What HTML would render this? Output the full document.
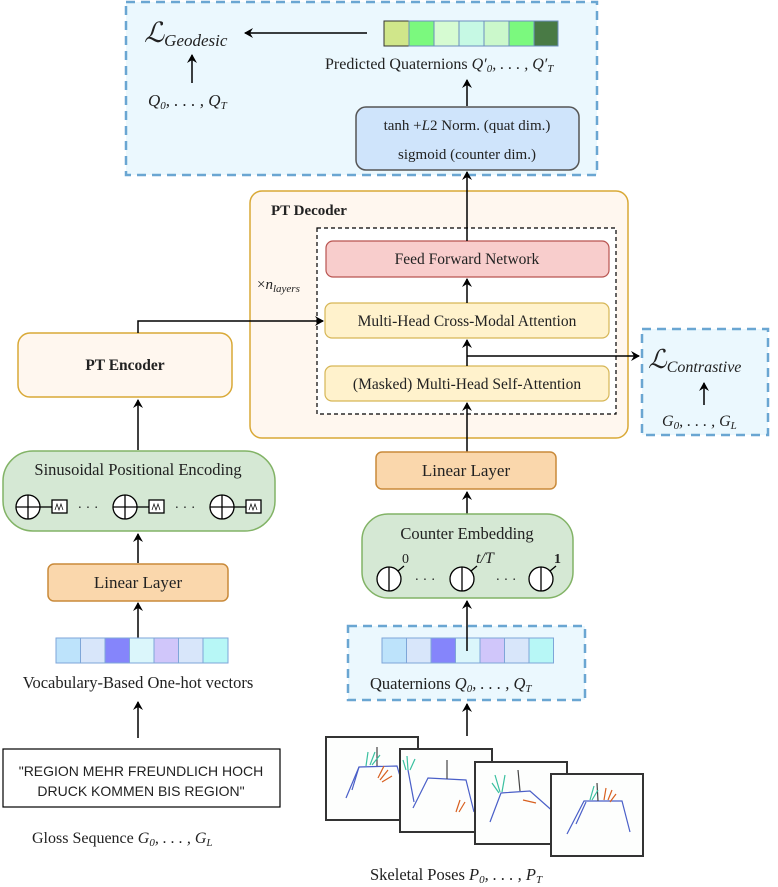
<!DOCTYPE html>
<html><head><meta charset="utf-8"><style>
html,body{margin:0;padding:0;background:#fff}
svg{display:block}
text{font-family:"Liberation Serif",serif;fill:#222}
.it{font-style:italic}
</style></head><body>
<svg width="778" height="887" viewBox="0 0 778 887" xmlns="http://www.w3.org/2000/svg">
<defs>
<marker id="a" markerWidth="10" markerHeight="10" refX="8" refY="5" orient="auto" markerUnits="userSpaceOnUse">
<path d="M0,0 L9,5 L0,10 L3,5 z" fill="#000"/></marker>
</defs>
<!-- top box -->
<rect x="126" y="2" width="471" height="173" fill="#ebf8fe" stroke="#6aa6d2" stroke-width="2.5" stroke-dasharray="9,6"/>
<text x="144" y="42" font-size="28" class="it">ℒ<tspan font-size="17" dy="4">Geodesic</tspan></text>
<line x1="367" y1="33" x2="245" y2="33" stroke="#000" stroke-width="1.5" marker-end="url(#a)"/>
<line x1="192" y1="83" x2="192" y2="55" stroke="#000" stroke-width="1.5" marker-end="url(#a)"/>
<text x="148" y="106" font-size="17" class="it">Q<tspan font-size="11" dy="3">0</tspan><tspan dy="-3">, . . . , Q</tspan><tspan font-size="11" dy="3">T</tspan></text>
<g stroke="#6c8ebf" stroke-width="1">
<rect x="384" y="21" width="25" height="25" fill="#d0e68a" stroke="#333"/>
<rect x="409" y="21" width="25" height="25" fill="#7bf97e"/>
<rect x="434" y="21" width="25" height="25" fill="#d6fbd2"/>
<rect x="459" y="21" width="25" height="25" fill="#c6f9e4"/>
<rect x="484" y="21" width="25" height="25" fill="#cbf8cb"/>
<rect x="509" y="21" width="25" height="25" fill="#7bf97e"/>
<rect x="534" y="21" width="24" height="25" fill="#497a45"/>
</g>
<text x="325" y="69" font-size="16">Predicted Quaternions <tspan class="it">Q′<tspan font-size="11" dy="3">0</tspan><tspan dy="-3">, . . . , Q′</tspan><tspan font-size="11" dy="3">T</tspan></tspan></text>
<line x1="467" y1="106" x2="467" y2="80" stroke="#000" stroke-width="1.5" marker-end="url(#a)"/>
<rect x="356" y="107" width="223" height="63" rx="10" fill="#cfe4fb" stroke="#555" stroke-width="1.5"/>
<text x="467" y="130" font-size="15" text-anchor="middle">tanh +<tspan class="it">L</tspan>2 Norm. (quat dim.)</text>
<text x="467" y="159" font-size="15" text-anchor="middle">sigmoid (counter dim.)</text>
<!-- decoder -->
<rect x="250" y="191" width="378" height="247" rx="12" fill="#fff7ef" stroke="#d9a937" stroke-width="1.5"/>
<text x="271" y="215" font-size="15" font-weight="bold">PT Decoder</text>
<rect x="317" y="228" width="299" height="186" fill="#fff" stroke="#000" stroke-width="1.2" stroke-dasharray="4,3"/>
<text x="257" y="289" font-size="15">×<tspan class="it">n</tspan><tspan class="it" font-size="11" dy="3">layers</tspan></text>
<rect x="326" y="241" width="283" height="36" rx="7" fill="#f8cdcc" stroke="#b85450" stroke-width="1.2"/>
<text x="467" y="264" font-size="15.5" text-anchor="middle">Feed Forward Network</text>
<rect x="325" y="303" width="284" height="35" rx="7" fill="#fff2cc" stroke="#d6b656" stroke-width="1.2"/>
<text x="467" y="326" font-size="15.5" text-anchor="middle">Multi-Head Cross-Modal Attention</text>
<rect x="325" y="366" width="284" height="35" rx="7" fill="#fff2cc" stroke="#d6b656" stroke-width="1.2"/>
<text x="467" y="389" font-size="15.5" text-anchor="middle">(Masked) Multi-Head Self-Attention</text>
<line x1="467" y1="241" x2="467" y2="172" stroke="#000" stroke-width="1.5" marker-end="url(#a)"/>
<line x1="467" y1="303" x2="467" y2="279" stroke="#000" stroke-width="1.5" marker-end="url(#a)"/>
<line x1="467" y1="366" x2="467" y2="340" stroke="#000" stroke-width="1.5" marker-end="url(#a)"/>
<line x1="467" y1="356" x2="639" y2="356" stroke="#000" stroke-width="1.5" marker-end="url(#a)"/>
<line x1="467" y1="452" x2="467" y2="403" stroke="#000" stroke-width="1.5" marker-end="url(#a)"/>
<!-- contrastive -->
<rect x="642" y="329" width="126" height="106" fill="#ebf8fe" stroke="#6aa6d2" stroke-width="2.5" stroke-dasharray="9,6"/>
<text x="648" y="368" font-size="26" class="it">ℒ<tspan font-size="16" dy="4">Contrastive</tspan></text>
<line x1="704" y1="405" x2="704" y2="383" stroke="#000" stroke-width="1.5" marker-end="url(#a)"/>
<text x="662" y="426" font-size="16" class="it">G<tspan font-size="11" dy="3">0</tspan><tspan dy="-3">, . . . , G</tspan><tspan font-size="11" dy="3">L</tspan></text>
<!-- encoder -->
<rect x="18" y="333" width="214" height="64" rx="12" fill="#fff7ef" stroke="#d9a937" stroke-width="1.5"/>
<text x="125" y="370" font-size="15.5" font-weight="bold" text-anchor="middle">PT Encoder</text>
<polyline points="138,333 138,321 323,321" fill="none" stroke="#000" stroke-width="1.5" marker-end="url(#a)"/>
<line x1="138" y1="450" x2="138" y2="400" stroke="#000" stroke-width="1.5" marker-end="url(#a)"/>
<rect x="3" y="451" width="272" height="80" rx="30" fill="#d5e8d4" stroke="#82b366" stroke-width="1.5"/>
<text x="138" y="475" font-size="16.5" text-anchor="middle">Sinusoidal Positional Encoding</text>
<g stroke="#000" stroke-width="1.3" fill="#fff">
<g transform="translate(28,507)"><circle r="12"/><line x1="-12" y1="0" x2="12" y2="0"/><line x1="0" y1="-12" x2="0" y2="12"/><line x1="12" y1="0" x2="24" y2="0"/><rect x="24" y="-7" width="15" height="13"/><path d="M27,3 L29,-3 L31,3 L33,-3 L35,3" fill="none" stroke-width="0.7"/></g>
<g transform="translate(125,507)"><circle r="12"/><line x1="-12" y1="0" x2="12" y2="0"/><line x1="0" y1="-12" x2="0" y2="12"/><line x1="12" y1="0" x2="24" y2="0"/><rect x="24" y="-7" width="15" height="13"/><path d="M27,3 L29,-3 L31,3 L33,-3 L35,3" fill="none" stroke-width="0.7"/></g>
<g transform="translate(222,507)"><circle r="12"/><line x1="-12" y1="0" x2="12" y2="0"/><line x1="0" y1="-12" x2="0" y2="12"/><line x1="12" y1="0" x2="24" y2="0"/><rect x="24" y="-7" width="15" height="13"/><path d="M27,3 L29,-3 L31,3 L33,-3 L35,3" fill="none" stroke-width="0.7"/></g>
</g>
<text x="88" y="512" font-size="14" text-anchor="middle">· · ·</text>
<text x="185" y="512" font-size="14" text-anchor="middle">· · ·</text>
<line x1="138" y1="563" x2="138" y2="534" stroke="#000" stroke-width="1.5" marker-end="url(#a)"/>
<rect x="48" y="564" width="180" height="37" rx="6" fill="#fad7ac" stroke="#c98a3a" stroke-width="1.5"/>
<text x="138" y="588" font-size="17" text-anchor="middle">Linear Layer</text>
<line x1="138" y1="638" x2="138" y2="603" stroke="#000" stroke-width="1.5" marker-end="url(#a)"/>
<g stroke="#7ea6d8" stroke-width="1">
<rect x="56" y="638" width="24.5" height="25" fill="#bde3fb"/><rect x="80.5" y="638" width="24.5" height="25" fill="#d8e6fa"/><rect x="105" y="638" width="24.5" height="25" fill="#8585fb"/><rect x="129.5" y="638" width="24.5" height="25" fill="#dbf6fb"/><rect x="154" y="638" width="24.5" height="25" fill="#d0c6fa"/><rect x="178.5" y="638" width="24.5" height="25" fill="#d8e6fa"/><rect x="203" y="638" width="25" height="25" fill="#b7f7f6"/>
</g>
<text x="138" y="688" font-size="16.5" text-anchor="middle">Vocabulary-Based One-hot vectors</text>
<line x1="138" y1="738" x2="138" y2="702" stroke="#000" stroke-width="1.5" marker-end="url(#a)"/>
<rect x="3" y="749" width="277" height="58" fill="#fff" stroke="#000" stroke-width="1.2"/>
<text x="141" y="776" font-size="14" text-anchor="middle" style="font-family:'Liberation Sans',sans-serif">"REGION MEHR FREUNDLICH HOCH</text>
<text x="141" y="796" font-size="14" text-anchor="middle" style="font-family:'Liberation Sans',sans-serif">DRUCK KOMMEN BIS REGION"</text>
<text x="32" y="843" font-size="16">Gloss Sequence  <tspan class="it">G<tspan font-size="11" dy="3">0</tspan><tspan dy="-3">, . . . , G</tspan><tspan font-size="11" dy="3">L</tspan></tspan></text>
<!-- right column -->
<rect x="376" y="452" width="180" height="37" rx="6" fill="#fad7ac" stroke="#c98a3a" stroke-width="1.5"/>
<text x="466" y="476" font-size="17" text-anchor="middle">Linear Layer</text>
<line x1="467" y1="514" x2="467" y2="492" stroke="#000" stroke-width="1.5" marker-end="url(#a)"/>
<rect x="362" y="514" width="211" height="84" rx="26" fill="#d5e8d4" stroke="#82b366" stroke-width="1.5"/>
<text x="467" y="539" font-size="16.5" text-anchor="middle">Counter Embedding</text>
<g stroke="#000" stroke-width="1.3" fill="#fff">
<circle cx="389" cy="579" r="12"/><line x1="389" y1="567" x2="389" y2="591"/><line x1="398" y1="571" x2="404" y2="566"/>
<circle cx="462" cy="579" r="12"/><line x1="462" y1="567" x2="462" y2="591"/><line x1="471" y1="571" x2="477" y2="566"/>
<circle cx="541" cy="579" r="12"/><line x1="541" y1="567" x2="541" y2="591"/><line x1="550" y1="571" x2="556" y2="566"/>
</g>
<text x="402" y="563" font-size="14">0</text>
<text x="476" y="563" font-size="16" class="it">t/T</text>
<text x="554" y="563" font-size="14" font-weight="bold">1</text>
<text x="425" y="584" font-size="14" text-anchor="middle">· · ·</text>
<text x="506" y="584" font-size="14" text-anchor="middle">· · ·</text>
<rect x="348" y="626" width="237" height="74" fill="#ebf8fe" stroke="#6aa6d2" stroke-width="2.5" stroke-dasharray="9,6"/>
<g stroke="#7ea6d8" stroke-width="1">
<rect x="382" y="638" width="24.5" height="25" fill="#bde3fb"/><rect x="406.5" y="638" width="24.5" height="25" fill="#d8e6fa"/><rect x="431" y="638" width="24.5" height="25" fill="#8585fb"/><rect x="455.5" y="638" width="24.5" height="25" fill="#dbf6fb"/><rect x="480" y="638" width="24.5" height="25" fill="#d0c6fa"/><rect x="504.5" y="638" width="24.5" height="25" fill="#d8e6fa"/><rect x="529" y="638" width="24.5" height="25" fill="#b7f7f6"/>
</g>
<line x1="467" y1="651" x2="467" y2="601" stroke="#000" stroke-width="1.5" marker-end="url(#a)"/>
<text x="370" y="689" font-size="16.5">Quaternions <tspan class="it">Q<tspan font-size="11" dy="3">0</tspan><tspan dy="-3">, . . . , Q</tspan><tspan font-size="11" dy="3">T</tspan></tspan></text>
<line x1="467" y1="736" x2="467" y2="704" stroke="#000" stroke-width="1.5" marker-end="url(#a)"/>
<!-- poses -->
<g fill="none" stroke-width="1.2">
<rect x="326" y="737" width="92" height="83" fill="#fdfefd" stroke="#333" stroke-width="2"/>
<path d="M346,798 L359,767 L397,766 L407,800" stroke="#4a5fc8"/><path d="M377,766 L377,747" stroke="#444"/><path d="M359,767 L352,790" stroke="#4a5fc8"/>
<path d="M370,765 L375,752 M372,765 L380,755 M366,766 L368,752" stroke="#3ac0a0"/><path d="M380,780 L388,770 M382,782 L392,776 M378,778 L384,766" stroke="#d86020"/>
<rect x="400" y="749" width="92" height="83" fill="#fdfefd" stroke="#333" stroke-width="2"/>
<path d="M413,808 L428,778 L466,780 L474,812" stroke="#4a5fc8"/><path d="M447,779 L447,760" stroke="#444"/><path d="M408,770 L414,802" stroke="#4a5fc8"/><path d="M408,770 L407,756 M410,770 L415,759 M406,770 L403,760" stroke="#3ac0a0"/><path d="M456,812 L460,800 M459,812 L465,802" stroke="#d86020"/>
<rect x="475" y="762" width="92" height="82" fill="#fdfefd" stroke="#333" stroke-width="2"/>
<path d="M490,822 L501,793 L530,791 L565,822" stroke="#4a5fc8"/><path d="M520,791 L518,770" stroke="#444"/><path d="M500,792 L495,775 M502,792 L505,775 M499,793 L492,783" stroke="#3ac0a0"/><path d="M523,800 L536,803" stroke="#d86020"/>
<rect x="551" y="774" width="92" height="82" fill="#fdfefd" stroke="#333" stroke-width="2"/>
<path d="M567,834 L584,801 L622,801 L630,832" stroke="#4a5fc8"/><path d="M598,801 L597,783" stroke="#444"/><path d="M586,802 L576,824" stroke="#4a5fc8"/><path d="M590,800 L594,786 M592,800 L598,790" stroke="#3ac0a0"/><path d="M604,800 L606,788 M608,800 L612,790 M610,802 L616,794" stroke="#d86020"/>
</g>
<text x="370" y="880" font-size="16.5">Skeletal Poses  <tspan class="it">P<tspan font-size="11" dy="3">0</tspan><tspan dy="-3">, . . . , P</tspan><tspan font-size="11" dy="3">T</tspan></tspan></text>
</svg>
</body></html>
